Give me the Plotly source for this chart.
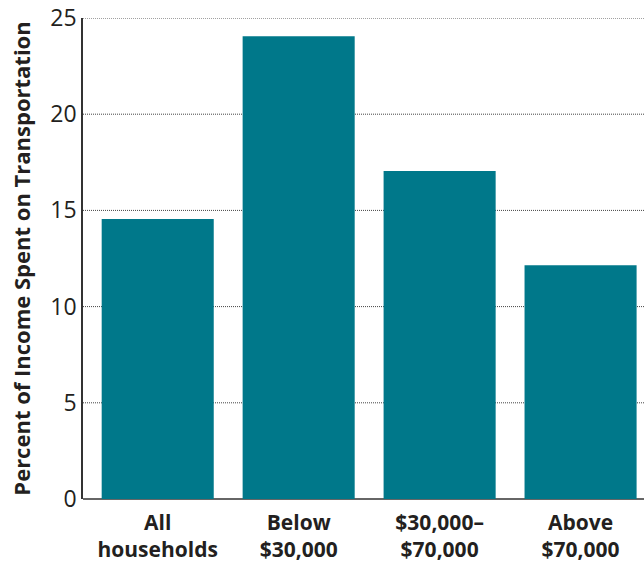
import plotly.graph_objects as go

categories = ["All<br>households", "Below<br>$30,000", "$30,000–<br>$70,000", "Above<br>$70,000"]
values = [14.55, 24.05, 17.05, 12.15]
y_ticks = [0, 5, 10, 15, 20, 25]

bar_color = "#00788A"
text_color = "#231F20"
font_family = "Open Sans, Liberation Sans, sans-serif"

fig = go.Figure(go.Bar(x=list(range(len(categories))), y=values, marker_color=bar_color,
                       marker_line_width=0, width=0.795, hoverinfo="skip"))

# dotted gridlines
for t in y_ticks[1:]:
    fig.add_shape(type="line", xref="paper", x0=0, x1=1, yref="y", y0=t, y1=t,
                  line=dict(color="#444444", width=1, dash="1px,1px"), layer="below")

fig.update_layout(
    width=644, height=567,
    margin=dict(l=83, r=0, t=18, b=68),
    plot_bgcolor="white", paper_bgcolor="white",
    showlegend=False,
    font=dict(family=font_family, color=text_color),
    xaxis=dict(
        tickmode="array", tickvals=list(range(len(categories))),
        ticktext=["<b>" + c.replace("<br>", "</b><br><b>") + "</b>" for c in categories],
        range=[-0.53, 3.45], showgrid=False, zeroline=False, automargin=False,
        showline=False, ticks="", tickfont=dict(size=21, color=text_color),
        ticklabelstandoff=9,
    ),
    yaxis=dict(
        range=[0, 25], tickvals=y_ticks, showgrid=False, automargin=False,
        zeroline=True, zerolinecolor="#666666", zerolinewidth=2,
        showline=True, linecolor="#333333", linewidth=1.5,
        ticks="", tickfont=dict(size=23, color=text_color),
        title=dict(text="<b>Percent of Income Spent on Transportation</b>",
                   font=dict(size=22, color=text_color), standoff=14),
    ),
)

fig.write_html("out.html", config={"displayModeBar": False},
               post_script="document.body.style.margin='0';")
